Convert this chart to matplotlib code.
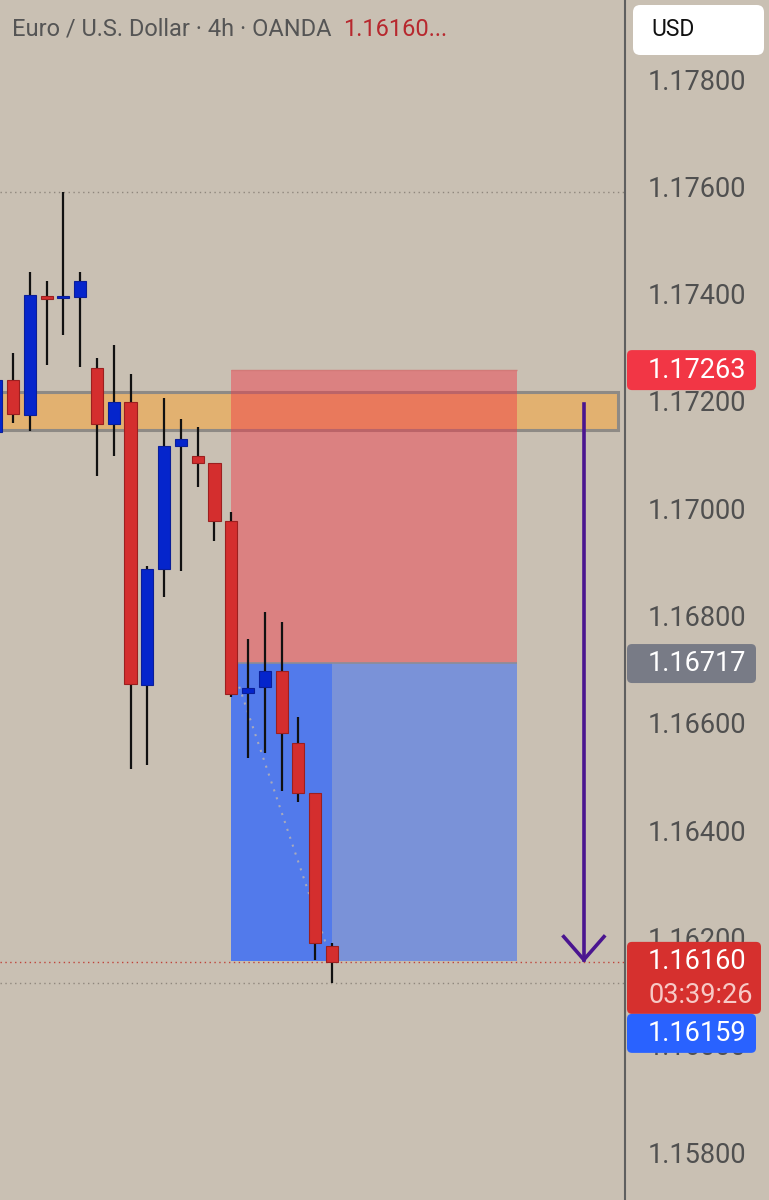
import matplotlib
matplotlib.use("Agg")
import matplotlib.pyplot as plt
from matplotlib.patches import Rectangle, FancyBboxPatch

# candle data (EUR/USD 4h), bar index 0 = left edge
opens = [1.17148, 1.17245, 1.17179, 1.17401, 1.17397, 1.17399, 1.17267, 1.17163, 1.17204, 1.16676,
         1.16892, 1.17122, 1.17103, 1.17090, 1.16982, 1.16661, 1.16672, 1.16702, 1.16568, 1.16475, 1.16190]
highs = [1.17255, 1.17295, 1.17446, 1.17429, 1.17595, 1.17446, 1.17286, 1.17310, 1.17256, 1.16898,
         1.17211, 1.17172, 1.17157, 1.17090, 1.16999, 1.16762, 1.16812, 1.16794, 1.16616, 1.16475, 1.16195]
lows = [1.17140, 1.17164, 1.17150, 1.17273, 1.17328, 1.17269, 1.17066, 1.17103, 1.16520, 1.16527,
        1.16840, 1.16888, 1.17045, 1.16945, 1.16654, 1.16540, 1.16549, 1.16479, 1.16458, 1.16164, 1.16121]
closes = [1.17245, 1.17181, 1.17403, 1.17396, 1.17400, 1.17429, 1.17163, 1.17204, 1.16678, 1.16892,
          1.17122, 1.17135, 1.17090, 1.16982, 1.16659, 1.16670, 1.16702, 1.16587, 1.16475, 1.16195, 1.16160]

price_ticks = [1.15800, 1.16000, 1.16200, 1.16400, 1.16600, 1.16800, 1.17000, 1.17200, 1.17400, 1.17600, 1.17800]

# supply zone and short position
zone_low, zone_high = 1.17152, 1.17222
zone_end = 37.03
stop_price = 1.17263
entry_price = 1.16717
target_price = 1.16162
pos_start, pos_end, pos_now = 14, 31, 20
arrow_bar = 35
arrow_from, arrow_to = 1.17200, 1.16164

last_price = 1.16160
bid_price = 1.16159
countdown = "03:39:26"
range_high, range_low = 1.17595, 1.16121

W, H = 769, 1200
px = 1.8639e-5  # price per pixel
ymax = 1.178 + 82 * px
ymin = 1.178 - (H - 82) * px

bg = "#c9c0b3"
red = "#d42e2e"
blue = "#0525cc"

plt.rcParams["font.family"] = ["Roboto", "DejaVu Sans"]
fig = plt.figure(figsize=(W / 100, H / 100), dpi=100, facecolor=bg)

ax = fig.add_axes([0, 0, 625 / W, 1])
ax.set_facecolor(bg)
ax.set_xlim(0.2257, 37.45)
ax.set_ylim(ymin, ymax)
ax.set_xticks([])
ax.set_yticks([])
for s in ax.spines.values():
    s.set_visible(False)

# zones
ax.add_patch(Rectangle((-1, zone_low), zone_end + 1, zone_high - zone_low,
                       fc="#e2b170", ec="#8e8a85", lw=2.2, zorder=1))
ax.add_patch(Rectangle((pos_start, entry_price), pos_end - pos_start, stop_price - entry_price,
                       fc=(242 / 255, 54 / 255, 69 / 255, 0.45), ec="none", zorder=2))
ax.hlines(stop_price, pos_start, pos_end, color="#d27a78", lw=1, zorder=2)
blue_fill = (41 / 255, 98 / 255, 255 / 255, 0.49)
ax.add_patch(Rectangle((pos_start, target_price), pos_end - pos_start, entry_price - target_price,
                       fc=blue_fill, ec="none", zorder=2))
ax.add_patch(Rectangle((pos_start, target_price), pos_now - pos_start, entry_price - target_price,
                       fc=blue_fill, ec="none", zorder=2))
ax.hlines(entry_price, pos_start, pos_end, color="#8b8c98", lw=1.2, zorder=2)
ax.plot([pos_start, pos_now], [entry_price, last_price], ls=(0, (1, 3)), color="#a7a9bd", lw=1.5, zorder=2)

# dotted range / price lines
ax.axhline(range_high, color="#8f877d", lw=1, ls=(0, (1, 2.5)), zorder=3)
ax.axhline(range_low, color="#8f877d", lw=1, ls=(0, (1, 2.5)), zorder=3)
ax.axhline(last_price, color="#c0443a", lw=1, ls=(0, (1, 2.5)), zorder=3)

# candles
for i, (o, h, l, c) in enumerate(zip(opens, highs, lows, closes)):
    up = c >= o
    ax.vlines(i, l, h, color="#111111", lw=1.6, zorder=4)
    body = max(abs(c - o), 0.00004)
    ax.bar(i, body, bottom=min(o, c), width=0.72,
           color=blue if up else red, edgecolor="#0a1e99" if up else "#9c1f1f", lw=0.8, zorder=5)

# arrow
arrow_c = "#4a1590"
ax.plot([arrow_bar, arrow_bar], [arrow_from, arrow_to], color=arrow_c, lw=2.6, zorder=6)
ax.plot([arrow_bar - 1.2, arrow_bar, arrow_bar + 1.2],
        [arrow_to + 0.00043, arrow_to, arrow_to + 0.00043],
        color=arrow_c, lw=2.6, zorder=6, solid_joinstyle="miter")

# title
fig.text(12 / W, 1 - 29 / H, "Euro / U.S. Dollar · 4h · OANDA", color="#555555",
         fontsize=17, va="center", ha="left")
fig.text(343 / W, 1 - 29 / H, f"{last_price:.5f}...", color="#b7282e",
         fontsize=17, va="center", ha="left")

# price scale
ax2 = fig.add_axes([625 / W, 0, 144 / W, 1], sharey=ax)
ax2.set_facecolor(bg)
ax2.set_xlim(0, 144)
ax2.tick_params(left=False, bottom=False, labelleft=False, labelbottom=False)
for k, s in ax2.spines.items():
    s.set_visible(k == "left")
ax2.spines["left"].set_color("#5f5f5f")
ax2.spines["left"].set_linewidth(1.5)

for p in price_ticks:
    ax2.text(23, p, f"{p:.5f}", color="#505050", fontsize=19.5, va="center", ha="left", zorder=1)


def box(x0, x1, top, bottom, color):
    ax2.add_patch(FancyBboxPatch((x0, bottom), x1 - x0, top - bottom,
                                 boxstyle="round,pad=0,rounding_size=5", mutation_aspect=px,
                                 fc=color, ec="none", zorder=3))


box(2, 131, stop_price + 20 * px, stop_price - 20 * px, "#f23645")
ax2.text(23, stop_price, f"{stop_price:.5f}", color="white", fontsize=19.5, va="center", zorder=4)
box(2, 131, entry_price + 19 * px, entry_price - 20 * px, "#787b86")
ax2.text(23, entry_price, f"{entry_price:.5f}", color="white", fontsize=19.5, va="center", zorder=4)
box(2, 136, last_price + 20 * px, last_price - 52 * px, "#d6302e")
ax2.text(23, last_price, f"{last_price:.5f}", color="white", fontsize=19.5, va="center", zorder=4)
ax2.text(23, last_price - 34 * px, countdown, color="#f7c9c6", fontsize=19.5, va="center", zorder=4)
box(2, 131, last_price - 52 * px, last_price - 91 * px, "#2962ff")
ax2.text(23, last_price - 72 * px, f"{bid_price:.5f}", color="white", fontsize=19.5, va="center", zorder=4)

# currency button
ax2.add_patch(FancyBboxPatch((8 / 144, 1 - 55 / H), 131 / 144, 50 / H,
                             boxstyle="round,pad=0,rounding_size=0.05", mutation_aspect=144 / H,
                             transform=ax2.transAxes, fc="white", ec="none", zorder=3))
ax2.text(26 / 144, 1 - 30 / H, "USD", transform=ax2.transAxes, color="#111111",
         fontsize=16.5, va="center", ha="left", zorder=4)

fig.savefig("out.png", dpi=100, facecolor=bg)
